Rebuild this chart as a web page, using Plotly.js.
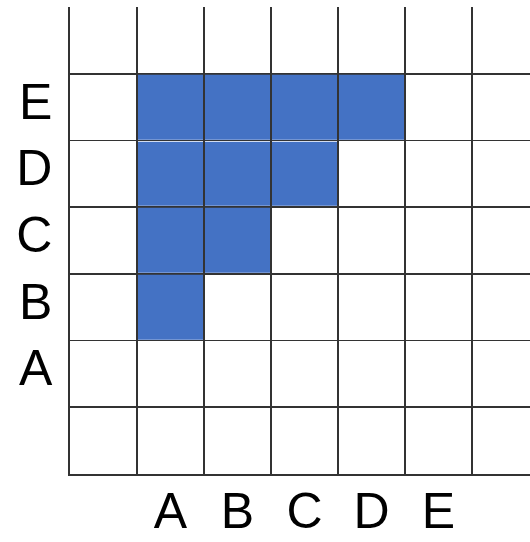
<!DOCTYPE html>
<html>
<head>
<meta charset="utf-8">
<script src="https://cdn.plot.ly/plotly-3.0.1.min.js"></script>
<style>html,body{margin:0;padding:0;background:#fff;}#chart{width:530px;height:542px;}</style>
</head>
<body>
<div id="chart"></div>
<script>
// Categories
var colLabels = ["A", "B", "C", "D", "E"];
var rowLabels = ["A", "B", "C", "D", "E"];
// Filled cells per row (1 = filled), rows A..E, columns A..E
var rowA = [0, 0, 0, 0, 0];
var rowB = [1, 0, 0, 0, 0];
var rowC = [1, 1, 0, 0, 0];
var rowD = [1, 1, 1, 0, 0];
var rowE = [1, 1, 1, 1, 0];

var rows = [rowA, rowB, rowC, rowD, rowE];
var xPos = colLabels.map(function(_, i){ return i + 1; });
var yPos = rowLabels.map(function(_, i){ return i + 1; });
var z = rows.map(function(r){ return r.map(function(v){ return v ? 1 : null; }); });

var trace = {
  type: "heatmap",
  x: xPos,
  y: yPos,
  z: z,
  zmin: 0, zmax: 1,
  colorscale: [[0, "#4472C4"], [1, "#4472C4"]],
  showscale: false,
  xgap: 2, ygap: 2,
  hoverinfo: "skip"
};

var gridStyle = {showgrid: true, gridcolor: "#333333", gridwidth: 1.6};

var layout = {
  width: 530, height: 542,
  margin: {l: 70, r: 0, t: 7, b: 68},
  paper_bgcolor: "#ffffff", plot_bgcolor: "#ffffff",
  showlegend: false,
  font: {family: "Liberation Sans, Arial, sans-serif", color: "#000"},
  xaxis: {
    range: [-0.5, 6.366],
    tickmode: "array", tickvals: xPos, ticktext: colLabels,
    showgrid: false, zeroline: false,
    showline: true, linecolor: "#333333", linewidth: 1.6,
    ticks: "", ticklabelstandoff: -8,
    tickfont: {size: 50, family: "Liberation Sans, Arial, sans-serif"},
    minor: Object.assign({tickmode: "array", tickvals: [0.5, 1.5, 2.5, 3.5, 4.5, 5.5, 6.5], ticks: ""}, gridStyle),
    fixedrange: true
  },
  yaxis: {
    range: [-0.5, 6.5],
    tickmode: "array", tickvals: yPos, ticktext: rowLabels,
    showgrid: false, zeroline: false,
    showline: true, linecolor: "#333333", linewidth: 1.6,
    ticks: "", ticklabelstandoff: 6, ticklabelshift: -6,
    tickfont: {size: 50, family: "Liberation Sans, Arial, sans-serif"},
    minor: Object.assign({tickmode: "array", tickvals: [0.5, 1.5, 2.5, 3.5, 4.5, 5.5], ticks: ""}, gridStyle),
    fixedrange: true
  }
};

Plotly.newPlot("chart", [trace], layout, {displayModeBar: false, staticPlot: true});
</script>
</body>
</html>
